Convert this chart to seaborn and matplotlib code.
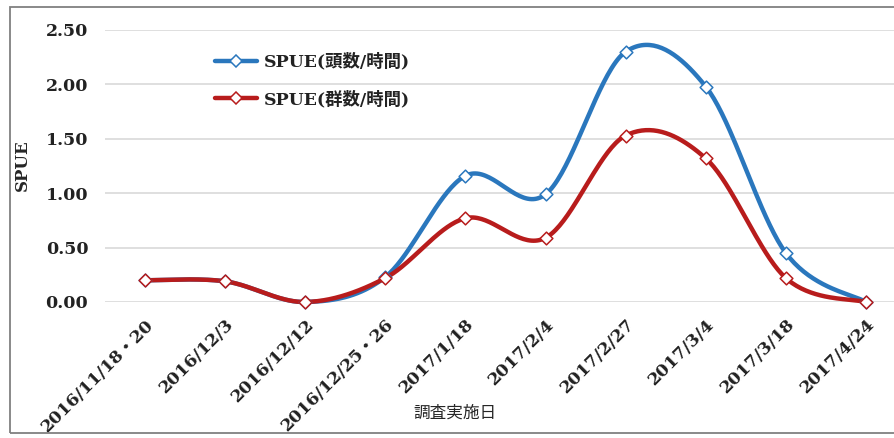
import numpy as np
import pandas as pd
import matplotlib
matplotlib.use("Agg")
import matplotlib.pyplot as plt
import seaborn as sns
from matplotlib.lines import Line2D
from matplotlib.patches import Rectangle

# ---- data ----
dates = ["2016/11/18・20", "2016/12/3", "2016/12/12", "2016/12/25・26", "2017/1/18",
         "2017/2/4", "2017/2/27", "2017/3/4", "2017/3/18", "2017/4/24"]
spue_head = [0.20, 0.19, 0.00, 0.23, 1.16, 0.99, 2.30, 1.98, 0.45, 0.00]
spue_group = [0.20, 0.19, 0.00, 0.22, 0.77, 0.59, 1.53, 1.32, 0.22, 0.00]
series_names = ["SPUE(頭数/時間)", "SPUE(群数/時間)"]
y_ticks = [0.0, 0.5, 1.0, 1.5, 2.0, 2.5]
x_title = "調査実施日"
y_title = "SPUE"

colors = ["#2a77bd", "#b81c1c"]

sns.set_theme(style="white")
plt.rcParams['font.family'] = ['DejaVu Serif', 'Noto Sans CJK JP']
plt.rcParams['text.color'] = '#222222'


def smooth_path(vals, n=40):
    """Excel-style smoothed line: cubic Bezier through the data points."""
    y = np.asarray(vals, float)
    x = np.arange(len(y), dtype=float)
    P = np.column_stack([x, y])
    E = np.vstack([P[0], P, P[-1]])
    pieces = []
    for i in range(len(P) - 1):
        p0, p1, p2, p3 = E[i], E[i + 1], E[i + 2], E[i + 3]
        c1 = p1 + (p2 - p0) / 6.0
        c2 = p2 - (p3 - p1) / 6.0
        t = np.linspace(0, 1, n, endpoint=(i == len(P) - 2))[:, None]
        b = (1 - t) ** 3 * p1 + 3 * (1 - t) ** 2 * t * c1 + 3 * (1 - t) * t ** 2 * c2 + t ** 3 * p2
        pieces.append(b)
    return np.vstack(pieces)


fig = plt.figure(figsize=(8.94, 4.38), dpi=100)
ax = fig.add_axes([105 / 894, (438 - 302) / 438, 801 / 894, 272 / 438])

for vals, col in zip([spue_head, spue_group], colors):
    c = smooth_path(vals)
    sns.lineplot(x=c[:, 0], y=c[:, 1], sort=False, estimator=None, color=col,
                 lw=3.2, ax=ax, clip_on=False, zorder=2)
    df = pd.DataFrame({"x": np.arange(len(vals)), "y": vals})
    sns.scatterplot(data=df, x="x", y="y", marker="D", s=42, facecolor="white",
                    edgecolor=col, linewidth=1.1, ax=ax, clip_on=False, zorder=3)

ax.set_xlim(-0.5, len(dates) - 0.5)
ax.set_ylim(0, 2.5)
ax.set_yticks(y_ticks)
ax.set_yticklabels([f"{v:.2f}" for v in y_ticks], fontsize=12.5, fontweight="bold")
ax.set_xticks(np.arange(len(dates)))
ax.set_xticklabels(dates, rotation=45, ha="right", rotation_mode="anchor", fontsize=12.5,
                   fontweight="bold")
ax.tick_params(axis="y", length=0, pad=12, colors="#222222")
ax.tick_params(axis="x", length=0, pad=10, colors="#222222")
ax.grid(axis="y", color="#d9d9d9", lw=1.2)
ax.grid(axis="x", visible=False)
for s in ax.spines.values():
    s.set_visible(False)

ax.set_xlabel(x_title, family="Noto Sans CJK JP", fontsize=12)
ax.xaxis.set_label_coords((455 - 105) / 801, (302 - 405) / 272)
ax.set_ylabel(y_title, fontsize=12, fontweight="bold")
ax.yaxis.set_label_coords((31 - 105) / 801, (302 - 165) / 272)

handles = [Line2D([], [], color=c, lw=3.2, marker="D", ms=6.5, mfc="white", mec=c, mew=1.1)
           for c in colors]
fig.legend(handles, series_names, loc="upper left", bbox_to_anchor=(215 / 894, 1 - 53 / 438),
           frameon=False, borderpad=0, borderaxespad=0, handlelength=2.4,
           handletextpad=0.4, labelspacing=1.15, prop={"size": 12.5, "weight": "bold"})

fig.patches.append(Rectangle((10 / 894, 5 / 438), 1.0, 1 - 12 / 438, transform=fig.transFigure,
                             fill=False, edgecolor="#808080", lw=1.3, clip_on=False))

fig.savefig("out.png", dpi=100)
